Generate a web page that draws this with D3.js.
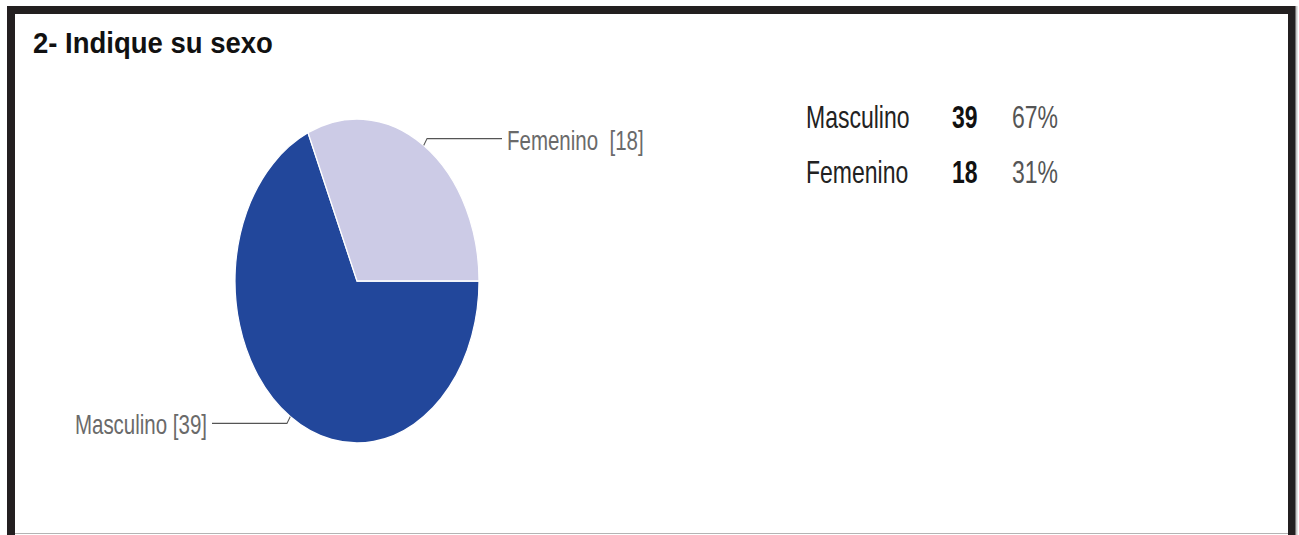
<!DOCTYPE html>
<html>
<head>
<meta charset="utf-8">
<script src="https://cdn.jsdelivr.net/npm/d3@7"></script>
<style>
  html, body { margin: 0; padding: 0; background: #fff; }
  svg { display: block; }
  text { font-family: "Liberation Sans", Arial, sans-serif; }
</style>
</head>
<body>
<div id="chart"></div>
<script>
// data
const title = '2- Indique su sexo';
const categories = ['Masculino', 'Femenino'];
const counts = [39, 18];
const percents = [67, 31];
const colors = ['#22479b', '#cccbe6'];

const width = 1299, height = 535;
// the original screenshot is stretched vertically
const ky = 162 / 122;
const sy = y => y / ky;

const svg = d3.select('#chart').append('svg')
  .attr('width', width)
  .attr('height', height);

svg.append('rect')
  .attr('width', width).attr('height', height)
  .attr('fill', '#fff');

// frame, open at the bottom
svg.append('path')
  .attr('d', 'M 11 540 L 11 10 L 1292 10 L 1292 540')
  .attr('fill', 'none')
  .attr('stroke', '#231f20')
  .attr('stroke-width', 8);
svg.append('line')
  .attr('x1', 1296.5).attr('x2', 1296.5).attr('y1', 6).attr('y2', 535)
  .attr('stroke', '#c8c8c8').attr('stroke-width', 2);
svg.append('line')
  .attr('x1', 15).attr('x2', 1288).attr('y1', 533.5).attr('y2', 533.5)
  .attr('stroke', '#b4b4b4').attr('stroke-width', 1);

// title is less stretched than the rest
svg.append('text')
  .attr('transform', 'translate(33,53) scale(1,1.06)')
  .attr('font-size', 27.5)
  .attr('font-weight', 'bold')
  .attr('fill', '#111')
  .text(title);

const g = svg.append('g').attr('transform', `scale(1, ${ky})`);

// pie
const r = 122;
const cx = 357, cy = sy(281);
const pie = d3.pie().sort(null).value(d => d)
  .startAngle(Math.PI / 2).endAngle(Math.PI / 2 + 2 * Math.PI);
const arcs = pie(counts);
const arc = d3.arc().innerRadius(0).outerRadius(r);

const pieG = g.append('g').attr('transform', `translate(${cx},${cy})`);
pieG.selectAll('path.slice')
  .data(arcs)
  .join('path')
  .attr('class', 'slice')
  .attr('d', arc)
  .attr('fill', (d, i) => colors[i])
  .attr('stroke', '#fff')
  .attr('stroke-width', 1.2);

// leader lines and labels
const lineLen = 75, gap = 5;
arcs.forEach((d, i) => {
  const a = (d.startAngle + d.endAngle) / 2;
  const sx = Math.sin(a), cyy = -Math.cos(a);
  const p0 = [r * sx, r * cyy];
  const p1 = [(r + 6) * sx, (r + 6) * cyy];
  const right = sx > 0;
  const p2 = [p1[0] + (right ? lineLen : -lineLen), p1[1]];
  pieG.append('path')
    .attr('d', `M ${p0[0]} ${p0[1]} L ${p1[0]} ${p1[1]} L ${p2[0]} ${p2[1]}`)
    .attr('fill', 'none')
    .attr('stroke', '#555')
    .attr('stroke-width', 1);
  pieG.append('text')
    .attr('x', p2[0] + (right ? gap : -gap))
    .attr('y', p2[1] + 8.3)
    .attr('text-anchor', right ? 'start' : 'end')
    .attr('font-size', 20.5)
    .attr('fill', '#6a6a6a')
    .style('white-space', 'pre')
    .text(right ? `${categories[i]}  [${counts[i]}]` : `${categories[i]} [${counts[i]}]`);
});

// summary table
const rowY = d3.scalePoint().domain(categories).range([sy(128), sy(183)]);
const rows = g.selectAll('g.row')
  .data(categories)
  .join('g')
  .attr('class', 'row')
  .attr('transform', d => `translate(0,${rowY(d)})`);
rows.append('text')
  .attr('x', 806)
  .attr('font-size', 23)
  .attr('fill', '#222')
  .text(d => d);
rows.append('text')
  .attr('x', 952)
  .attr('font-size', 23)
  .attr('font-weight', 'bold')
  .attr('fill', '#111')
  .text((d, i) => counts[i]);
rows.append('text')
  .attr('x', 1012)
  .attr('font-size', 23)
  .attr('fill', '#555')
  .text((d, i) => percents[i] + '%');
</script>
</body>
</html>
